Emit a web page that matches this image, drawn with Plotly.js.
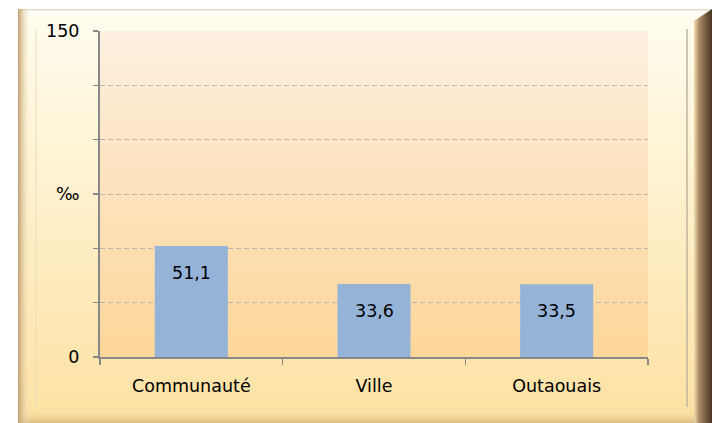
<!DOCTYPE html>
<html>
<head>
<meta charset="utf-8">
<script src="https://cdn.plot.ly/plotly-3.0.1.min.js"></script>
<style>
html,body{margin:0;padding:0;background:#fff;}
#chart{width:712px;height:423px;}
</style>
</head>
<body>
<div id="chart"></div>
<script>
// ---- data ----
const categories = ["Communauté", "Ville", "Outaouais"];
const values = [51.1, 33.6, 33.5];
const yTickVals = [0, 75, 150];
const yTickText = ["0", "‰", "150"];

// ---- layout constants ----
const W = 712, H = 423;
const M = {l: 100, r: 64, t: 31, b: 66};
const PW = W - M.l - M.r, PH = H - M.t - M.b;
const pxX = px => (px - M.l) / PW;
const pxY = py => (H - M.b - py) / PH;

const frameSvg = `<svg xmlns='http://www.w3.org/2000/svg' width='694' height='416' viewBox='0 0 694 416' preserveAspectRatio='none'>
<defs>
<linearGradient id='bg' x1='0' y1='0' x2='0' y2='1'><stop offset='0' stop-color='#FFFDF0'/><stop offset='1' stop-color='#FDE1A2'/></linearGradient>
<linearGradient id='lf' x1='0' y1='0' x2='1' y2='0'><stop offset='0' stop-color='#C2A070'/><stop offset='1' stop-color='#F8EBC8' stop-opacity='0'/></linearGradient>
<linearGradient id='rt' x1='0' y1='0' x2='1' y2='0'><stop offset='0' stop-color='#F3DDB0'/><stop offset='0.3' stop-color='#A88A64'/><stop offset='1' stop-color='#45341F'/></linearGradient>
<linearGradient id='tp' x1='0' y1='0' x2='0' y2='1'><stop offset='0' stop-color='#D8D4C0'/><stop offset='0.2' stop-color='#FFFFF8'/><stop offset='1' stop-color='#FFFDF0' stop-opacity='0'/></linearGradient>
<linearGradient id='bt' x1='0' y1='0' x2='0' y2='1'><stop offset='0' stop-color='#FDE3A6' stop-opacity='0'/><stop offset='1' stop-color='#D2B077'/></linearGradient>
</defs>
<rect x='0' y='0' width='694' height='416' fill='url(#bg)'/>
<rect x='0' y='0' width='694' height='12' fill='url(#tp)'/>
<rect x='0' y='400' width='694' height='16' fill='url(#bt)'/>
<rect x='0' y='0' width='12' height='416' fill='url(#lf)'/>
<line x1='18' y1='20' x2='18' y2='400' stroke='#EADDB8' stroke-width='1'/>
<line x1='20' y1='400' x2='668' y2='400' stroke='#EEDDB0' stroke-width='1'/>
<line x1='669' y1='20' x2='669' y2='398' stroke='#BFB49C' stroke-width='1.5'/>
<polygon points='676,12 694,0 694,416 676,416' fill='url(#rt)'/>
</svg>`;

const plotSvg = `<svg xmlns='http://www.w3.org/2000/svg' width='548' height='326' viewBox='0 0 548 326' preserveAspectRatio='none'>
<defs><linearGradient id='g' x1='0' y1='0' x2='0' y2='1'><stop offset='0' stop-color='#FDEFDF'/><stop offset='1' stop-color='#FDD699'/></linearGradient></defs>
<rect x='0' y='0' width='548' height='326' fill='url(#g)'/></svg>`;

const toUri = s => 'data:image/svg+xml;charset=utf-8,' + encodeURIComponent(s);

const FONT = "DejaVu Sans";
const FS = 17.5;

const trace = {
  type: 'bar',
  x: categories,
  y: values,
  marker: {color: '#95B3D7', line: {width: 0}},
  hoverinfo: 'none',
  cliponaxis: false
};

const annotations = categories.map((c, i) => ({
  x: c, y: values[i], xref: 'x', yref: 'y',
  text: values[i].toFixed(1).replace('.', ','),
  showarrow: false, yanchor: 'middle', yshift: -27,
  font: {family: FONT, size: FS, color: '#000'}
}));

const GRID = '#B8B6B2';
const DASH = '5px,3px';

const layout = {
  width: W, height: H,
  margin: M,
  paper_bgcolor: '#ffffff',
  plot_bgcolor: 'rgba(0,0,0,0)',
  showlegend: false,
  bargap: 0.6,
  font: {family: FONT, size: FS, color: '#000'},
  xaxis: {
    type: 'category',
    showline: true, linecolor: '#888888', linewidth: 2,
    ticks: 'outside', tickson: 'boundaries', ticklen: 6, tickcolor: '#888888', tickwidth: 1.5,
    showgrid: false, zeroline: false,
    tickfont: {family: FONT, size: FS, color: '#000'},
    ticklabelstandoff: 12,
    fixedrange: true
  },
  yaxis: {
    range: [0, 150],
    tickmode: 'array', tickvals: yTickVals, ticktext: yTickText,
    showline: true, linecolor: '#888888', linewidth: 2,
    ticks: 'outside', ticklen: 5, tickcolor: '#888888', tickwidth: 1.5,
    showgrid: false,
    zeroline: false,
    minor: {tickmode: 'linear', tick0: 0, dtick: 25, ticks: 'outside', ticklen: 5, tickcolor: '#888888', tickwidth: 1.5,
            showgrid: true, gridcolor: GRID, griddash: DASH, gridwidth: 1},
    tickfont: {family: FONT, size: FS, color: '#000'},
    ticklabelstandoff: 10,
    fixedrange: true
  },
  annotations: annotations,
  images: [
    {source: toUri(frameSvg), xref: 'paper', yref: 'paper',
     x: pxX(18), y: pxY(9), sizex: (712 - 18) / PW, sizey: (425 - 9) / PH,
     xanchor: 'left', yanchor: 'top', sizing: 'stretch', layer: 'below'},
    {source: toUri(plotSvg), xref: 'paper', yref: 'paper',
     x: 0, y: 1, sizex: 1, sizey: 1,
     xanchor: 'left', yanchor: 'top', sizing: 'stretch', layer: 'below'}
  ]
};

Plotly.newPlot('chart', [trace], layout, {displayModeBar: false, staticPlot: true});
</script>
</body>
</html>
